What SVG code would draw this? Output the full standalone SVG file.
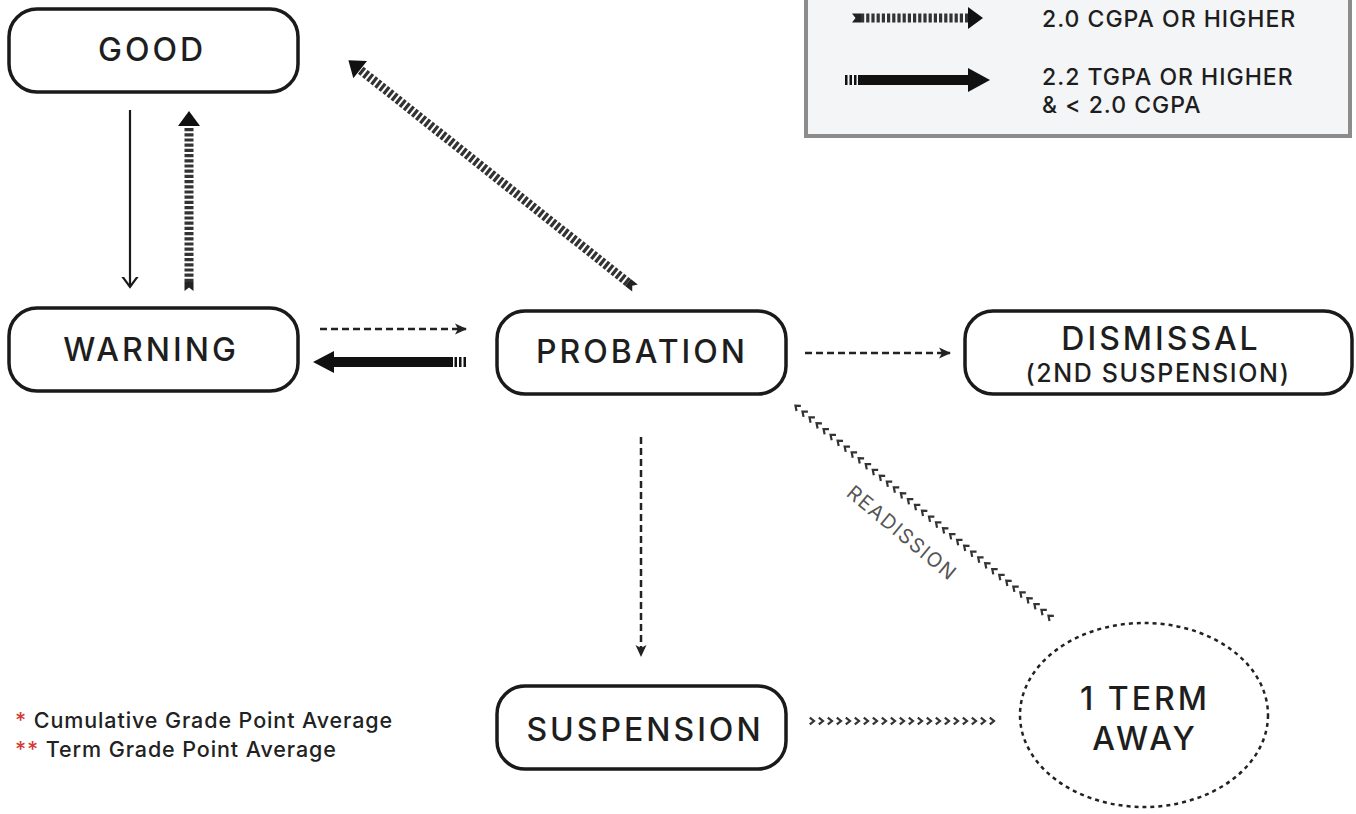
<svg xmlns="http://www.w3.org/2000/svg" width="1356" height="814" viewBox="0 0 1356 814">
<style>
.node rect{fill:#fff;stroke:#1a1a1a;stroke-width:3.5}
.lbl{font-family:Inter,"Noto Sans","Liberation Sans",sans-serif;font-weight:500;fill:#1e1e1e;text-anchor:middle}
.big{font-size:32px;letter-spacing:3px}
.mid{font-size:25px;letter-spacing:1.6px}
.leg{font-family:Inter,"Noto Sans","Liberation Sans",sans-serif;font-weight:500;fill:#1e1e1e;font-size:23px;letter-spacing:1px}
.foot{font-family:Inter,"Noto Sans","Liberation Sans",sans-serif;font-weight:500;fill:#222;font-size:21.5px;letter-spacing:0.9px}
.red{fill:#d33a34}
.dash{stroke:#222;stroke-width:2.5;stroke-dasharray:7 4;fill:none}
.stripe{stroke:#333;stroke-width:9;stroke-dasharray:3.2 2;fill:none}
.chev{fill:none;stroke:none}
</style>
<defs>
<marker id="dart" markerUnits="userSpaceOnUse" markerWidth="16" markerHeight="14" viewBox="-12 -7 14 14" refX="0" refY="0" orient="auto">
<polygon points="1,0 -11,-5.5 -8,0 -11,5.5" fill="#222"/>
</marker>
<marker id="vee" markerUnits="userSpaceOnUse" markerWidth="20" markerHeight="20" viewBox="-10 -10 20 20" refX="0" refY="0" orient="auto">
<path d="M-11,-8 L0,0 L-11,8" fill="none" stroke="#1a1a1a" stroke-width="2.2"/>
</marker>
<marker id="chv" markerUnits="userSpaceOnUse" markerWidth="10" markerHeight="10" viewBox="-5 -5 10 10" refX="0" refY="0" orient="auto">
<path d="M-2.2,-3.4 L2,0 L-2.2,3.4" fill="none" stroke="#333" stroke-width="2.2"/>
</marker>
</defs>

<g id="legend">
<rect x="806" y="-10" width="544" height="146" fill="#f4f5f7" stroke="#8c8c8c" stroke-width="4"/>
<g transform="translate(852,18)">
<polygon points="0,-4.5 9,-4.5 9,4.5 0,4.5 3.5,0" fill="#222"/>
<line x1="9" y1="0" x2="117" y2="0" class="stripe"/>
<polygon points="116,-11 131,0 116,11" fill="#111"/>
</g>
<g transform="translate(845,80)">
<rect x="0" y="-5" width="2.5" height="10" fill="#111"/>
<rect x="4.5" y="-5" width="2.5" height="10" fill="#111"/>
<rect x="9" y="-5" width="2.5" height="10" fill="#111"/>
<rect x="13" y="-5" width="112" height="10" fill="#111"/>
<polygon points="123,-12 145,0 123,12" fill="#111"/>
</g>
<text class="leg" x="1042" y="27">2.0 CGPA OR HIGHER</text>
<text class="leg" x="1042" y="85">2.2 TGPA OR HIGHER</text>
<text class="leg" x="1042" y="113">&amp; &lt; 2.0 CGPA</text>
</g>

<g id="connectors">
<line x1="130" y1="110" x2="130" y2="287" stroke="#1a1a1a" stroke-width="2.2" marker-end="url(#vee)"/>
<g transform="translate(189,291) rotate(-90)">
<polygon points="0,-4.5 9,-4.5 9,4.5 0,4.5 3.5,0" fill="#222"/>
<line x1="9" y1="0" x2="166" y2="0" class="stripe"/>
<polygon points="165,-11 180,0 165,11" fill="#111"/>
</g>
<g transform="translate(635,288) rotate(-141.54)">
<polygon points="0,-4.5 9,-4.5 9,4.5 0,4.5 3.5,0" fill="#222"/>
<line x1="9" y1="0" x2="352" y2="0" class="stripe"/>
<polygon points="351,-11 366,0 351,11" fill="#111"/>
</g>
<line x1="320" y1="329" x2="466" y2="329" class="dash" marker-end="url(#dart)"/>
<g transform="translate(466,362) rotate(180)">
<rect x="0" y="-5" width="2.5" height="10" fill="#111"/>
<rect x="4.5" y="-5" width="2.5" height="10" fill="#111"/>
<rect x="9" y="-5" width="2.5" height="10" fill="#111"/>
<rect x="13" y="-5" width="121" height="10" fill="#111"/>
<polygon points="132,-11 153,0 132,11" fill="#111"/>
</g>
<line x1="805" y1="353" x2="950" y2="353" class="dash" marker-end="url(#dart)"/>
<line x1="641" y1="437" x2="641" y2="656" class="dash" marker-end="url(#dart)"/>
<polyline class="chev" marker-start="url(#chv)" marker-mid="url(#chv)" marker-end="url(#chv)" points="812,721 821,721 830,721 839,721 848,721 857,721 866,721 875,721 884,721 893,721 902,721 911,721 920,721 929,721 938,721 947,721 956,721 965,721 974,721 983,721 992,721"/>
<polyline class="chev" marker-start="url(#chv)" marker-mid="url(#chv)" marker-end="url(#chv)" points="1050,617 1042.97,611.17 1035.94,605.33 1028.92,599.5 1021.89,593.67 1014.86,587.83 1007.83,582 1000.8,576.17 993.78,570.33 986.75,564.5 979.72,558.67 972.69,552.83 965.66,547 958.64,541.17 951.61,535.33 944.58,529.5 937.55,523.67 930.52,517.83 923.5,512 916.47,506.17 909.44,500.33 902.41,494.5 895.38,488.67 888.36,482.83 881.33,477 874.3,471.17 867.27,465.33 860.24,459.5 853.22,453.67 846.19,447.83 839.16,442 832.13,436.17 825.1,430.33 818.08,424.5 811.05,418.67 804.02,412.83 797,407"/>
<text transform="translate(902,533) rotate(39.7)" text-anchor="middle" font-family="Inter,'Noto Sans','Liberation Sans',sans-serif" font-size="20" font-weight="400" fill="#555" letter-spacing="1.6" y="7">READISSION</text>
</g>

<g id="node-good" class="node">
<rect x="9" y="9" width="289" height="83" rx="28"/>
<text class="lbl big" x="152" y="61">GOOD</text>
</g>
<g id="node-warning" class="node">
<rect x="9" y="308" width="289" height="83" rx="28"/>
<text class="lbl big" x="151" y="361">WARNING</text>
</g>
<g id="node-probation" class="node">
<rect x="497" y="311" width="289" height="83" rx="28"/>
<text class="lbl big" x="642" y="363">PROBATION</text>
</g>
<g id="node-dismissal" class="node">
<rect x="965" y="311" width="387" height="83" rx="28"/>
<text class="lbl big" x="1161" y="350">DISMISSAL</text>
<text class="lbl mid" x="1158" y="382">(2ND SUSPENSION)</text>
</g>
<g id="node-suspension" class="node">
<rect x="497" y="686" width="289" height="83" rx="28"/>
<text class="lbl big" x="645" y="741">SUSPENSION</text>
</g>
<g id="node-away">
<ellipse cx="1144" cy="715" rx="124" ry="92" fill="#fff" stroke="#222" stroke-width="2.5" stroke-dasharray="4 4"/>
<text class="lbl big" x="1145" y="710">1 TERM</text>
<text class="lbl big" x="1145" y="750">AWAY</text>
</g>

<g id="footnotes">
<text class="foot" x="15" y="728"><tspan class="red">*</tspan> Cumulative Grade Point Average</text>
<text class="foot" x="15" y="757"><tspan class="red">**</tspan> Term Grade Point Average</text>
</g>
</svg>
